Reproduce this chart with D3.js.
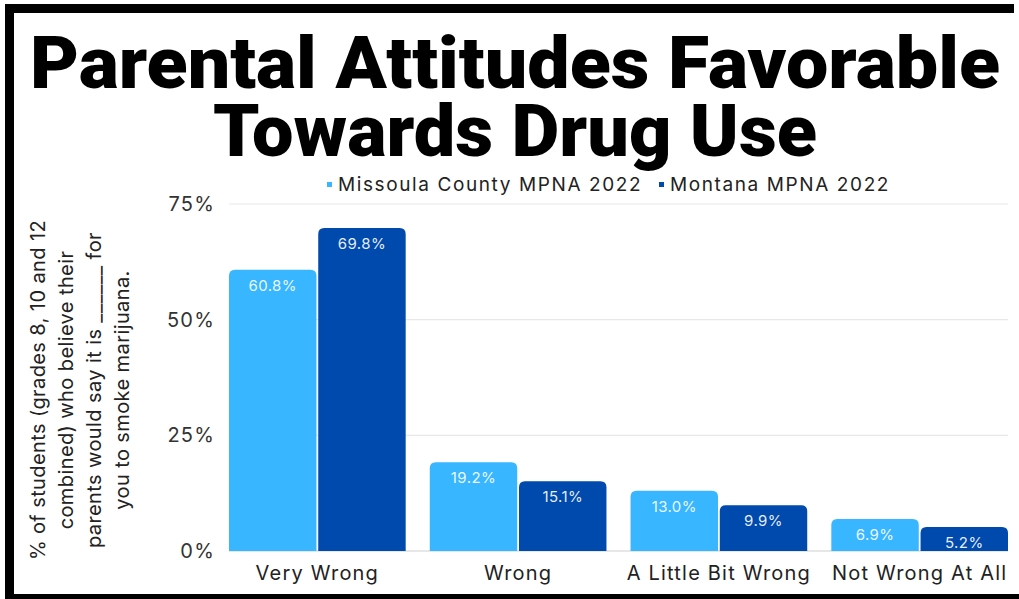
<!DOCTYPE html>
<html>
<head>
<meta charset="utf-8">
<script src="https://cdn.jsdelivr.net/npm/d3@7"></script>
<style>
  html, body { margin: 0; padding: 0; background: #fff; }
  svg { display: block; }
</style>
</head>
<body>
<svg id="chart" width="1019" height="599"></svg>
<script>
// Survey categories and the two series (percent of students)
const categories = ["Very Wrong", "Wrong", "A Little Bit Wrong", "Not Wrong At All"];
const seriesNames = ["Missoula County MPNA 2022", "Montana MPNA 2022"];
const missoula = [60.8, 19.2, 13.0, 6.9];
const montana = [69.8, 15.1, 9.9, 5.2];
const yTicks = [0, 25, 50, 75];
const titleLines = ["Parental Attitudes Favorable", "Towards Drug Use"];
const yTitleLines = [
  "% of students (grades 8, 10 and 12",
  "combined) who believe their",
  "parents would say it is ______ for",
  "you to smoke marijuana."
];
const colors = ["#38b6ff", "#004aad"];

const svg = d3.select("#chart");
const W = 1019, H = 599;
const font = "Inter, 'Noto Sans', sans-serif";

// frame
svg.append("rect").attr("x", 0).attr("y", 0).attr("width", W).attr("height", H).attr("fill", "#fff");
svg.append("rect").attr("x", 5).attr("y", 4).attr("width", 1009).attr("height", 9).attr("fill", "#000");
svg.append("rect").attr("x", 5).attr("y", 4).attr("width", 9).attr("height", 595).attr("fill", "#000");
svg.append("rect").attr("x", 5).attr("y", 594).attr("width", 1014).attr("height", 5).attr("fill", "#000");

// two-line title in one text block
const titleWidths = [970, 604];
const titleY = [88, 156];
const title = svg.append("text")
  .attr("text-anchor", "middle")
  .attr("font-family", "Roboto, 'DejaVu Sans', sans-serif")
  .attr("font-weight", 900)
  .attr("font-size", 72)
  .attr("fill", "#000");
titleLines.forEach((t, i) => {
  title.append("tspan")
    .attr("x", 515).attr("y", titleY[i])
    .attr("textLength", titleWidths[i])
    .attr("lengthAdjust", "spacingAndGlyphs")
    .text(t);
});

// scales
const margin = { left: 229, right: 1008, top: 204, bottom: 551 };
const x0 = d3.scaleBand().domain(categories).range([margin.left, margin.right]).paddingInner(0.12).paddingOuter(0);
const x1 = d3.scaleBand().domain(seriesNames).range([0, x0.bandwidth()]).paddingInner(0.02);
const y = d3.scaleLinear().domain([0, 75]).range([margin.bottom, margin.top]);

// gridlines
svg.append("g").selectAll("line").data(yTicks).join("line")
  .attr("x1", margin.left).attr("x2", margin.right)
  .attr("y1", d => y(d)).attr("y2", d => y(d))
  .attr("stroke", d => d === 0 ? "#cfcfcf" : "#e8e8e8")
  .attr("stroke-width", 1.2);

// y tick labels
const yAxis = d3.axisLeft(y).tickValues(yTicks).tickFormat(d => d + "%").tickSize(0).tickPadding(14);
const yg = svg.append("g").attr("transform", `translate(${margin.left},0)`).call(yAxis);
yg.select(".domain").remove();
yg.selectAll("text").attr("font-family", font).attr("font-size", 20)
  .attr("letter-spacing", 1.2).attr("fill", "#333");

// x category labels
const xAxis = d3.axisBottom(x0).tickSize(0).tickPadding(15);
const xg = svg.append("g").attr("transform", `translate(0,${margin.bottom})`).call(xAxis);
xg.select(".domain").remove();
xg.selectAll("text").attr("font-family", font).attr("font-size", 20)
  .attr("letter-spacing", 1.2).attr("fill", "#222");

// bars with rounded top corners
function topRounded(x, yTop, w, yBase, r) {
  r = Math.min(r, (yBase - yTop), w / 2);
  return `M${x},${yBase}V${yTop + r}Q${x},${yTop} ${x + r},${yTop}H${x + w - r}Q${x + w},${yTop} ${x + w},${yTop + r}V${yBase}Z`;
}

const rows = categories.map((c, i) => ({ cat: c, vals: [missoula[i], montana[i]] }));
const groups = svg.append("g").selectAll("g").data(rows).join("g")
  .attr("transform", d => `translate(${x0(d.cat)},0)`);

groups.selectAll("path").data(d => d.vals.map((v, k) => ({ v, k }))).join("path")
  .attr("d", d => topRounded(x1(seriesNames[d.k]), y(d.v), x1.bandwidth(), y(0), 6))
  .attr("fill", d => colors[d.k]);

groups.selectAll("text.val").data(d => d.vals.map((v, k) => ({ v, k }))).join("text")
  .attr("class", "val")
  .attr("x", d => x1(seriesNames[d.k]) + x1.bandwidth() / 2)
  .attr("y", d => y(d.v) + 21)
  .attr("text-anchor", "middle")
  .attr("font-family", font)
  .attr("font-size", 15)
  .attr("letter-spacing", 0.4)
  .attr("fill", "#fff")
  .attr("fill-opacity", 0.92)
  .text(d => d.v.toFixed(1) + "%");

// legend
const legendX = [327, 659];
seriesNames.forEach((n, k) => {
  svg.append("rect").attr("x", legendX[k]).attr("y", 182).attr("width", 5).attr("height", 5).attr("fill", colors[k]);
  svg.append("text").attr("x", legendX[k] + 11).attr("y", 191)
    .attr("font-family", font).attr("font-size", 19).attr("letter-spacing", 1.6)
    .attr("fill", "#222").text(n);
});

// y axis title
const yt = svg.append("text")
  .attr("transform", "translate(0,390) rotate(-90)")
  .attr("text-anchor", "middle")
  .attr("font-family", font).attr("font-size", 20).attr("letter-spacing", 0.4)
  .attr("fill", "#222");
yTitleLines.forEach((t, i) => {
  yt.append("tspan").attr("x", 0).attr("y", 45 + i * 28).text(t);
});
</script>
</body>
</html>
